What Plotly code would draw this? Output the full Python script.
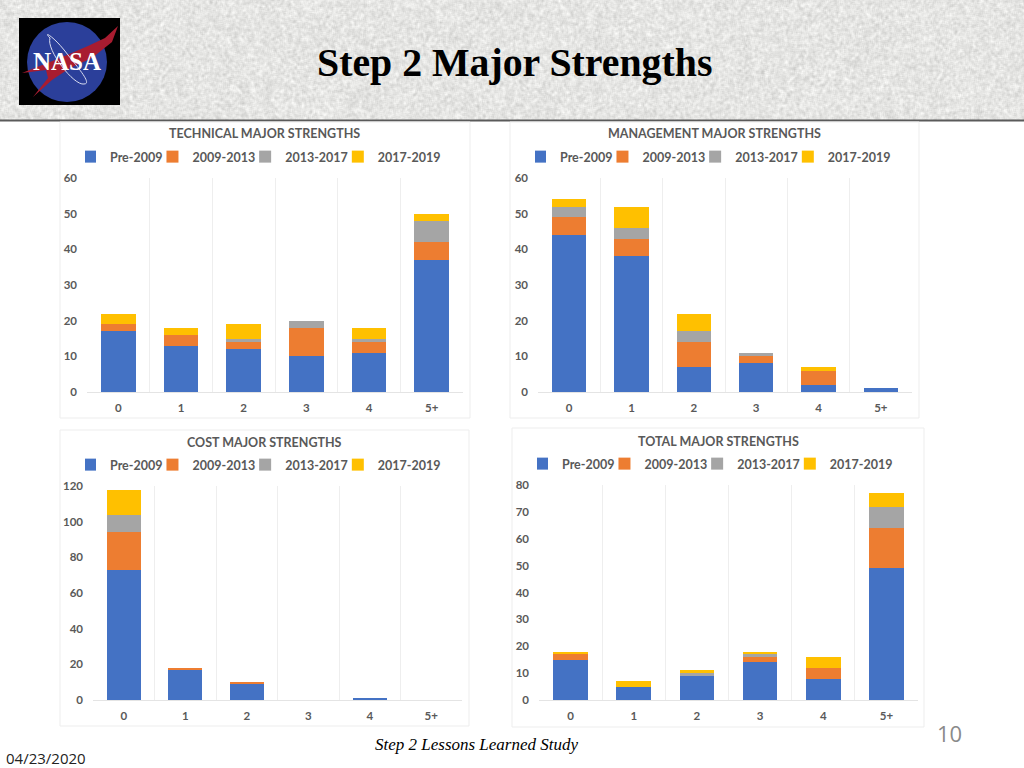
import base64
import struct
import zlib
import numpy as np
import plotly.graph_objects as go

categories = ["0", "1", "2", "3", "4", "5+"]
series_names = ["Pre-2009", "2009-2013", "2013-2017", "2017-2019"]
series_colors = ["#4472C4", "#ED7D31", "#A5A5A5", "#FFC000"]

technical_pre = [17, 13, 12, 10, 11, 37]
technical_09 = [2, 3, 2, 8, 3, 5]
technical_13 = [0, 0, 1, 2, 1, 6]
technical_17 = [3, 2, 4, 0, 3, 2]

management_pre = [44, 38, 7, 8, 2, 1]
management_09 = [5, 5, 7, 2, 4, 0]
management_13 = [3, 3, 3, 1, 0, 0]
management_17 = [2, 6, 5, 0, 1, 0]

cost_pre = [73, 17, 9, 0, 1, 0]
cost_09 = [21, 1, 1, 0, 0, 0]
cost_13 = [10, 0, 0, 0, 0, 0]
cost_17 = [14, 0, 0, 0, 0, 0]

total_pre = [15, 5, 9, 14, 8, 49]
total_09 = [2, 0, 0, 2, 4, 15]
total_13 = [0, 0, 1, 1, 0, 8]
total_17 = [1, 2, 1, 1, 4, 5]

W, H = 1024, 768
TEXT = "#595959"
FONT = "Lato"


def px(x):
    return x / W


def py(y):
    return 1 - y / H


def header_texture(w, h):
    # decorative stone-like band behind the slide header (not chart data)
    yy, xx = np.mgrid[0:h, 0:w]
    n = np.sin(xx * 12.9898 + yy * 78.233) * 43758.5453
    n = n - np.floor(n)
    blur = sum(np.roll(np.roll(n, dx, 1), dy, 0) for dx in (-1, 0, 1) for dy in (-1, 0, 1)) / 9
    v = np.clip(229 + (blur - 0.5) * 70, 0, 255).astype(np.uint8)
    rgb = np.stack([v, v, np.clip(v.astype(int) - 2, 0, 255).astype(np.uint8)], axis=2)
    raw = b"".join(b"\x00" + rgb[r].tobytes() for r in range(h))

    def chunk(tag, data):
        return struct.pack(">I", len(data)) + tag + data + struct.pack(">I", zlib.crc32(tag + data) & 0xFFFFFFFF)

    png = b"\x89PNG\r\n\x1a\n" + chunk(b"IHDR", struct.pack(">IIBBBBB", w, h, 8, 2, 0, 0, 0)) + \
        chunk(b"IDAT", zlib.compress(raw, 9)) + chunk(b"IEND", b"")
    return "data:image/png;base64," + base64.b64encode(png).decode()


panels = [
    dict(title="TECHNICAL MAJOR STRENGTHS", data=[technical_pre, technical_09, technical_13, technical_17],
         card=(60, 122, 470, 418), plot=(87, 178, 463, 392), ymax=60, dtick=10, title_x=264, title_y=134, legend_y=157, legend_x=85),
    dict(title="MANAGEMENT MAJOR STRENGTHS", data=[management_pre, management_09, management_13, management_17],
         card=(510, 122, 919, 418), plot=(538, 178, 912, 392), ymax=60, dtick=10, title_x=714, title_y=134, legend_y=157, legend_x=535),
    dict(title="COST MAJOR STRENGTHS", data=[cost_pre, cost_09, cost_13, cost_17],
         card=(60, 430, 469, 726), plot=(93, 486, 462, 700), ymax=120, dtick=20, title_x=264, title_y=442, legend_y=465, legend_x=85),
    dict(title="TOTAL MAJOR STRENGTHS", data=[total_pre, total_09, total_13, total_17],
         card=(512, 428, 924, 727), plot=(539, 485, 918, 700), ymax=80, dtick=10, title_x=718, title_y=441, legend_y=464, legend_x=537),
]

fig = go.Figure()
shapes = []
annotations = []
layout_extra = {}


def paper_shape(**kw):
    shapes.append(dict(xref="paper", yref="paper", layer="below", **kw))


def note(text, x, y, **font):
    annotations.append(dict(text=text, x=px(x), y=py(y), xref="paper", yref="paper", showarrow=False,
                            xanchor="center", yanchor="middle", font=font))


def pth(points):
    return "M" + " L".join(f"{px(a):.5f},{py(b):.5f}" for a, b in points) + " Z"


# header rule
paper_shape(type="line", x0=0, x1=1, y0=py(120.5), y1=py(120.5), line=dict(color="#5A5A5A", width=2))
# logo
paper_shape(type="rect", x0=px(19), x1=px(120), y0=py(105), y1=py(18), fillcolor="#000000", line_width=0)
paper_shape(type="circle", x0=px(27), x1=px(107), y0=py(102), y1=py(22), fillcolor="#2B3F9A", line_width=0)
paper_shape(type="path", path=pth([(22, 73), (60, 58), (88, 46), (105, 38), (118, 26), (112, 42), (92, 58),
                                   (70, 68), (52, 80), (33, 97), (48, 78), (46, 70)]),
            fillcolor="#A81C30", line_width=0)
paper_shape(type="path", path=(f"M{px(50):.5f},{py(38):.5f} "
                               f"C{px(42):.5f},{py(30):.5f} {px(54):.5f},{py(36):.5f} {px(68):.5f},{py(55):.5f} "
                               f"C{px(80):.5f},{py(70):.5f} {px(92):.5f},{py(84):.5f} {px(84):.5f},{py(84):.5f} "
                               f"C{px(74):.5f},{py(86):.5f} {px(46):.5f},{py(50):.5f} {px(50):.5f},{py(38):.5f} Z"),
            line=dict(color="#D8DCF0", width=1))

note("<b>NASA</b>", 67, 62, family="Liberation Serif", size=25, color="#FFFFFF")
note("<b>Step 2 Major Strengths</b>", 514, 63, family="Liberation Serif", size=39.8, color="#000000")
note("<i>Step 2 Lessons Learned Study</i>", 477, 744, family="Liberation Serif", size=17, color="#000000")
note("10", 949, 733, family="Open Sans", size=22, color="#8A8A8A")
note("04/23/2020", 46, 757.5, family="Open Sans", size=15, color="#222222")

for i, p in enumerate(panels):
    n = "" if i == 0 else str(i + 1)
    x0, y0, x1, y1 = p["card"]
    paper_shape(type="rect", x0=px(x0), x1=px(x1), y0=py(y1), y1=py(y0), fillcolor="#FFFFFF",
                line=dict(color="#EDEDED", width=1))
    a0, b0, a1, b1 = p["plot"]
    tickfont = dict(family=FONT, size=11.5, color=TEXT, weight=700)
    layout_extra[f"xaxis{n}"] = dict(
        domain=[px(a0), px(a1)], anchor=f"y{n}", type="category", categoryorder="array", categoryarray=categories,
        tickson="boundaries", showgrid=True, gridcolor="#EEEEEE", gridwidth=1, ticks="", showline=True,
        linecolor="#E4E4E4", zeroline=False, tickfont=tickfont, ticklabelstandoff=5, fixedrange=True, automargin=False)
    layout_extra[f"yaxis{n}"] = dict(
        domain=[py(b1), py(b0)], anchor=f"x{n}", range=[0, p["ymax"]], dtick=p["dtick"], showgrid=False,
        zeroline=False, showline=False, ticks="", tickfont=tickfont, ticklabelstandoff=9, fixedrange=True, automargin=False)
    layout_extra[f"legend{n}"] = dict(
        orientation="h", x=px(p["legend_x"]), xanchor="left", y=py(p["legend_y"]), yanchor="middle",
        bgcolor="rgba(0,0,0,0)", font=dict(family=FONT, size=12.5, color=TEXT, weight=700),
        itemwidth=30, indentation=-15, traceorder="normal", itemclick=False, itemdoubleclick=False)
    note(p["title"], p["title_x"], p["title_y"], family=FONT, size=12.5, color=TEXT, weight=700)
    for name, color, vals in zip(series_names, series_colors, p["data"]):
        fig.add_trace(go.Bar(name=name, x=categories, y=vals, marker=dict(color=color, line=dict(width=0)),
                             xaxis=f"x{n}", yaxis=f"y{n}", legend=f"legend{n}", width=0.55, showlegend=True))

fig.update_layout(width=W, height=H, margin=dict(l=0, r=0, t=0, b=0, autoexpand=False), autosize=False, barmode="stack",
                  paper_bgcolor="#FFFFFF", plot_bgcolor="rgba(0,0,0,0)", shapes=shapes, annotations=annotations,
                  images=[dict(source=header_texture(W, 120), xref="paper", yref="paper", x=0, y=1,
                               sizex=1, sizey=120 / H, sizing="stretch", xanchor="left", yanchor="top", layer="below")],
                  font=dict(family=FONT), **layout_extra)
fig.write_html("out.html", config={"displayModeBar": False},
               post_script="document.body.style.margin='0';")
